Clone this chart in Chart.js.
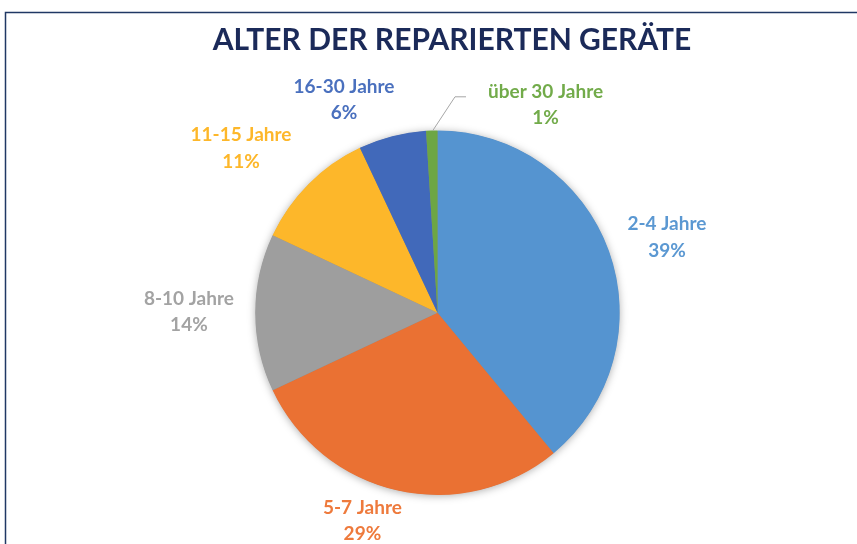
<!DOCTYPE html>
<html>
<head>
<meta charset="utf-8">
<script src="https://cdn.jsdelivr.net/npm/chart.js@4.4.1/dist/chart.umd.min.js"></script>
<style>
  html, body { margin: 0; padding: 0; background: #ffffff; }
  #wrap { width: 857px; height: 544px; position: relative; }
</style>
</head>
<body>
<div id="wrap"><canvas id="c" width="857" height="544"></canvas></div>
<script>
// ---- data ----
const chartTitle = "ALTER DER REPARIERTEN GERÄTE";
const categories = ["2-4 Jahre", "5-7 Jahre", "8-10 Jahre", "11-15 Jahre", "16-30 Jahre", "über 30 Jahre"];
const shares = [39, 29, 14, 11, 6, 1];
const percentLabels = ["39%", "29%", "14%", "11%", "6%", "1%"];

// ---- styles / layout (kept separate from the data) ----
const sliceColors = ["#5594D0", "#EA7133", "#9E9E9E", "#FDB72A", "#4169BA", "#6DA644"];
const labelColors = ["#5B98D2", "#EE7A3C", "#A3A3A3", "#FDB72A", "#4A70BE", "#72AB4A"];
// label block centres, in units of the pie radius, relative to the pie centre
const labelAnchors = [[1.259, -0.414], [-0.412, 1.143], [-1.364, -0.004], [-1.078, -0.903], [-0.513, -1.167], [0.593, -1.141]];

const overlay = {
  id: 'overlay',
  beforeDatasetsDraw(chart) {
    const arc = chart.getDatasetMeta(0).data[0];
    if (!arc) return;
    const ctx = chart.ctx;
    ctx.save();
    ctx.shadowColor = 'rgba(0,0,0,0.35)';
    ctx.shadowBlur = 9;
    ctx.shadowOffsetX = 0;
    ctx.shadowOffsetY = 1;
    ctx.fillStyle = '#888888';
    ctx.beginPath();
    ctx.arc(arc.x, arc.y, arc.outerRadius - 0.5, 0, Math.PI * 2);
    ctx.fill();
    ctx.restore();
  },
  afterDraw(chart) {
    const ctx = chart.ctx;
    const meta = chart.getDatasetMeta(0);
    const a0 = meta.data[0];
    const cx = a0.x, cy = a0.y, r = a0.outerRadius;

    // frame
    ctx.save();
    ctx.strokeStyle = '#203864';
    ctx.lineWidth = 1.5;
    ctx.beginPath();
    ctx.moveTo(5.5, 544);
    ctx.lineTo(5.5, 12.5);
    ctx.lineTo(857, 12.5);
    ctx.stroke();

    // title
    ctx.fillStyle = '#1B2A59';
    ctx.font = 'bold 30px Lato';
    ctx.textAlign = 'center';
    ctx.textBaseline = 'middle';
    ctx.fillText(chartTitle, 452, 40);

    // leader line for the smallest slice
    const small = meta.data[5];
    const mid = (small.startAngle + small.endAngle) / 2;
    const px = cx + Math.cos(mid) * r;
    const py = cy + Math.sin(mid) * r;
    const lab = labelAnchors[5];
    const ly = cy + lab[1] * r - 8;
    ctx.strokeStyle = '#A6A6A6';
    ctx.lineWidth = 1;
    ctx.beginPath();
    ctx.moveTo(px + 1, py);
    ctx.lineTo(455, ly);
    ctx.lineTo(466, ly);
    ctx.stroke();

    // labels
    ctx.font = 'bold 19px Lato';
    meta.data.forEach((el, i) => {
      const x = cx + labelAnchors[i][0] * r;
      const y = cy + labelAnchors[i][1] * r;
      ctx.fillStyle = labelColors[i];
      ctx.fillText(categories[i], x, y - 13.3);
      ctx.fillText(percentLabels[i], x, y + 13.3);
    });
    ctx.restore();
  }
};

new Chart(document.getElementById('c'), {
  type: 'pie',
  data: {
    labels: categories,
    datasets: [{
      data: shares,
      backgroundColor: sliceColors,
      borderWidth: 0
    }]
  },
  options: {
    responsive: false,
    animation: false,
    layout: { padding: { left: 255.25, right: 237.25, top: 130.5, bottom: 49 } },
    plugins: {
      legend: { display: false },
      tooltip: { enabled: false },
      title: { display: false }
    }
  },
  plugins: [overlay]
});
</script>
</body>
</html>
